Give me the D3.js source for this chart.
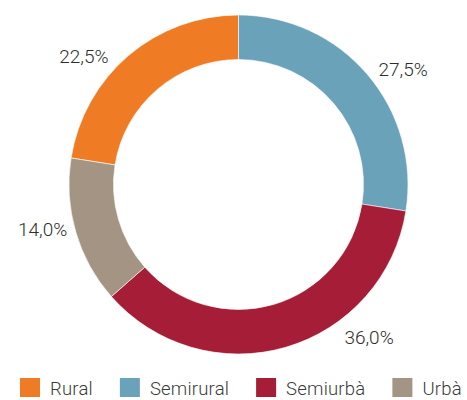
<!DOCTYPE html>
<html>
<head>
<meta charset="utf-8">
<script src="https://cdn.jsdelivr.net/npm/d3@7"></script>
<style>
  html, body { margin: 0; padding: 0; background: #fff; }
  svg { display: block; }
  text { font-family: Roboto, "Noto Sans", sans-serif; }
</style>
</head>
<body>
<svg id="chart" width="467" height="400"></svg>
<script>
// Share of population by municipality type (%)
const categories = ["Rural", "Semirural", "Semiurbà", "Urbà"];
const shares = [22.5, 27.5, 36.0, 14.0];
const colors = ["#EF7B25", "#6AA2BA", "#A51D36", "#A49483"];

const width = 467, height = 400;
const cx = 238.5, cy = 184.5;
const outerR = 169.5, innerR = 125;
const labelR = 201;
// small angular shifts (degrees) so labels sit clear of the ring and legend
const labelNudge = [-9.8, 5.5, -24.3, 3.3];

const svg = d3.select("#chart");
const total = d3.sum(shares);

// Rural ends at 12 o'clock, the remaining slices follow clockwise
const pie = d3.pie()
  .sort(null)
  .value(d => d)
  .startAngle(-2 * Math.PI * shares[0] / total)
  .endAngle(2 * Math.PI - 2 * Math.PI * shares[0] / total);

const arc = d3.arc().innerRadius(innerR).outerRadius(outerR);
const arcs = pie(shares);

const g = svg.append("g").attr("transform", `translate(${cx},${cy})`);

g.selectAll("path")
  .data(arcs)
  .join("path")
  .attr("d", arc)
  .attr("fill", (d, i) => colors[i])
  .attr("stroke", "#fff")
  .attr("stroke-width", 0.6);

const fmt = v => v.toFixed(1).replace(".", ",") + "%";
const labelAngle = (d, i) => (d.startAngle + d.endAngle) / 2 + labelNudge[i] * Math.PI / 180;

g.selectAll("text.pct")
  .data(arcs)
  .join("text")
  .attr("class", "pct")
  .attr("x", (d, i) => labelR * Math.sin(labelAngle(d, i)))
  .attr("y", (d, i) => -labelR * Math.cos(labelAngle(d, i)))
  .attr("text-anchor", "middle")
  .attr("dominant-baseline", "central")
  .attr("font-size", 19)
  .attr("font-weight", 300)
  .attr("fill", "#2e2e2e")
  .text(d => fmt(d.data));

// Legend along the bottom
const legend = svg.append("g").attr("transform", "translate(20,378)");
let xPos = 0;
categories.forEach((c, i) => {
  const item = legend.append("g").attr("transform", `translate(${xPos},0)`);
  item.append("rect")
    .attr("width", 20).attr("height", 19)
    .attr("fill", colors[i]);
  const t = item.append("text")
    .attr("x", 30).attr("y", 16.5)
    .attr("font-size", 18.5)
    .attr("font-weight", 300)
    .attr("letter-spacing", 0.2)
    .attr("fill", "#3a3a3a")
    .text(c);
  xPos += 30 + t.node().getComputedTextLength() + 27;
});
</script>
</body>
</html>
